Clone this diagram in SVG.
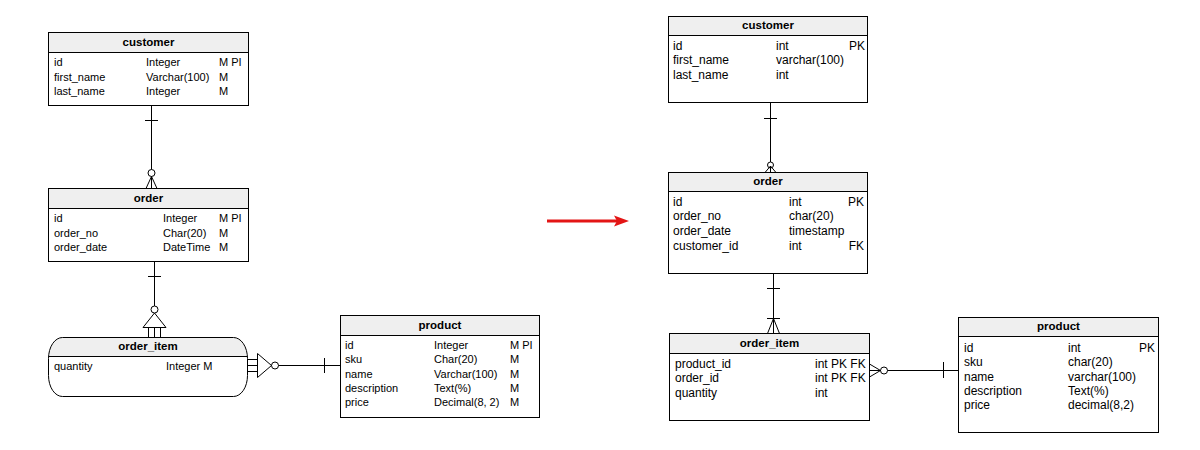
<svg xmlns="http://www.w3.org/2000/svg" width="1200" height="450" viewBox="0 0 1200 450">
<style>
.box{fill:#fff;stroke:#000;stroke-width:1}
.hdr{fill:#efefef;stroke:#000;stroke-width:1}
.t{font-family:"Liberation Sans",Arial,sans-serif;font-size:11px;fill:#000}
.t2{font-family:"Liberation Sans",Arial,sans-serif;font-size:12px;fill:#000}
.tt{font-family:"Liberation Sans",Arial,sans-serif;font-size:11.5px;font-weight:bold;fill:#000;text-anchor:middle}
.r{text-anchor:end}
.ln{fill:none;stroke:#000;stroke-width:1}
</style>
<rect width="1200" height="450" fill="#fff"/>

<!-- LEFT -->
<g id="l-customer">
<rect class="box" x="48.5" y="32.5" width="200" height="73"/>
<rect class="hdr" x="48.5" y="32.5" width="200" height="20"/>
<text class="tt" x="148.5" y="46">customer</text>
<text class="t" x="54" y="66">id</text><text class="t" x="146" y="66">Integer</text><text class="t" x="219" y="66">M PI</text>
<text class="t" x="54" y="80.5">first_name</text><text class="t" x="146" y="80.5">Varchar(100)</text><text class="t" x="219" y="80.5">M</text>
<text class="t" x="54" y="95">last_name</text><text class="t" x="146" y="95">Integer</text><text class="t" x="219" y="95">M</text>
</g>
<g id="l-order">
<rect class="box" x="48.5" y="188.5" width="200" height="73"/>
<rect class="hdr" x="48.5" y="188.5" width="200" height="20"/>
<text class="tt" x="148.5" y="202">order</text>
<text class="t" x="54" y="222">id</text><text class="t" x="163" y="222">Integer</text><text class="t" x="219" y="222">M PI</text>
<text class="t" x="54" y="236.5">order_no</text><text class="t" x="163" y="236.5">Char(20)</text><text class="t" x="219" y="236.5">M</text>
<text class="t" x="54" y="251">order_date</text><text class="t" x="163" y="251">DateTime</text><text class="t" x="219" y="251">M</text>
</g>
<g id="l-order_item">
<clipPath id="oic"><rect x="48.5" y="337.5" width="199" height="59" rx="14" ry="21"/></clipPath>
<rect x="48.5" y="337.5" width="199" height="59" rx="14" ry="21" fill="#fff"/>
<rect x="48.5" y="337.5" width="199" height="19" fill="#efefef" clip-path="url(#oic)"/>
<line class="ln" x1="48.5" y1="356.5" x2="247.5" y2="356.5"/>
<rect x="48.5" y="337.5" width="199" height="59" rx="14" ry="21" class="ln"/>
<text class="tt" x="148" y="350">order_item</text>
<text class="t" x="54" y="370">quantity</text><text class="t" x="166" y="370">Integer M</text>
</g>
<g id="l-product">
<rect class="box" x="340.5" y="315.5" width="199" height="102"/>
<rect class="hdr" x="340.5" y="315.5" width="199" height="20"/>
<text class="tt" x="440" y="329">product</text>
<text class="t" x="345" y="349">id</text><text class="t" x="434" y="349">Integer</text><text class="t" x="510" y="349">M PI</text>
<text class="t" x="345" y="363">sku</text><text class="t" x="434" y="363">Char(20)</text><text class="t" x="510" y="363">M</text>
<text class="t" x="345" y="378">name</text><text class="t" x="434" y="378">Varchar(100)</text><text class="t" x="510" y="378">M</text>
<text class="t" x="345" y="392">description</text><text class="t" x="434" y="392">Text(%)</text><text class="t" x="510" y="392">M</text>
<text class="t" x="345" y="406">price</text><text class="t" x="434" y="406">Decimal(8, 2)</text><text class="t" x="510" y="406">M</text>
</g>

<!-- RIGHT -->
<g id="r-customer">
<rect class="box" x="668.5" y="16.5" width="199" height="86"/>
<rect class="hdr" x="668.5" y="16.5" width="199" height="19"/>
<text class="tt" x="768" y="29">customer</text>
<text class="t2" x="673" y="49.5">id</text><text class="t2" x="776" y="49.5">int</text><text class="t2 r" x="865" y="49.5">PK</text>
<text class="t2" x="673" y="64">first_name</text><text class="t2" x="776" y="64">varchar(100)</text>
<text class="t2" x="673" y="79">last_name</text><text class="t2" x="776" y="79">int</text>
</g>
<g id="r-order">
<rect class="box" x="668.5" y="172.5" width="199" height="101"/>
<rect class="hdr" x="668.5" y="172.5" width="199" height="19"/>
<text class="tt" x="768" y="185">order</text>
<text class="t2" x="673" y="205.5">id</text><text class="t2" x="789" y="205.5">int</text><text class="t2 r" x="864" y="205.5">PK</text>
<text class="t2" x="673" y="220">order_no</text><text class="t2" x="789" y="220">char(20)</text>
<text class="t2" x="673" y="235">order_date</text><text class="t2" x="789" y="235">timestamp</text>
<text class="t2" x="673" y="249.5">customer_id</text><text class="t2" x="789" y="249.5">int</text><text class="t2 r" x="864" y="249.5">FK</text>
</g>
<g id="r-order_item">
<rect class="box" x="669.5" y="333.5" width="200" height="87"/>
<rect class="hdr" x="669.5" y="333.5" width="200" height="20"/>
<text class="tt" x="769.5" y="346.5">order_item</text>
<text class="t2" x="675" y="367.5">product_id</text><text class="t2" x="815" y="367.5">int PK FK</text>
<text class="t2" x="675" y="381.5">order_id</text><text class="t2" x="815" y="381.5">int PK FK</text>
<text class="t2" x="675" y="396.5">quantity</text><text class="t2" x="815" y="396.5">int</text>
</g>
<g id="r-product">
<rect class="box" x="958.5" y="317.5" width="200" height="115"/>
<rect class="hdr" x="958.5" y="317.5" width="200" height="19"/>
<text class="tt" x="1058.5" y="330">product</text>
<text class="t2" x="964" y="351.5">id</text><text class="t2" x="1068" y="351.5">int</text><text class="t2 r" x="1155" y="351.5">PK</text>
<text class="t2" x="964" y="365.5">sku</text><text class="t2" x="1068" y="365.5">char(20)</text>
<text class="t2" x="964" y="380.5">name</text><text class="t2" x="1068" y="380.5">varchar(100)</text>
<text class="t2" x="964" y="394.5">description</text><text class="t2" x="1068" y="394.5">Text(%)</text>
<text class="t2" x="964" y="408.5">price</text><text class="t2" x="1068" y="408.5">decimal(8,2)</text>
</g>

<g id="connectors">
<!-- left customer-order -->
<line class="ln" x1="151.5" y1="105.5" x2="151.5" y2="169.5"/>
<line class="ln" x1="145" y1="120.5" x2="158" y2="120.5"/>
<circle class="ln" cx="151.5" cy="173" r="3.5" fill="#fff"/>
<path class="ln" d="M151.5 176.5 L146 188.5 M151.5 176.5 L151.5 188.5 M151.5 176.5 L157 188.5"/>
<!-- left order-order_item -->
<line class="ln" x1="154.5" y1="261.5" x2="154.5" y2="306"/>
<line class="ln" x1="148" y1="276.5" x2="161" y2="276.5"/>
<circle class="ln" cx="154.5" cy="309.5" r="3.5" fill="#fff"/>
<path class="ln" d="M154.5 313 L143 327.5 L166 327.5 Z" fill="#fff"/>
<path class="ln" d="M148.5 327.5 V337.5 M154.5 327.5 V337.5 M160.5 327.5 V337.5"/>
<!-- left order_item-product -->
<path class="ln" d="M247.5 359.5 H257.5 M247.5 365.5 H257.5 M247.5 371.5 H257.5"/>
<path class="ln" d="M257.5 353.5 L257.5 377.5 L271.5 365.5 Z" fill="#fff"/>
<circle class="ln" cx="275" cy="365.5" r="3.5" fill="#fff"/>
<line class="ln" x1="278.5" y1="365.5" x2="340.5" y2="365.5"/>
<line class="ln" x1="324.5" y1="358" x2="324.5" y2="373"/>
<!-- red arrow -->
<line x1="547" y1="221" x2="618" y2="221" stroke="#e31515" stroke-width="3"/>
<polygon points="614,215.5 629,221 614,226.5 617,221" fill="#e31515"/>
<!-- right customer-order -->
<line class="ln" x1="770.5" y1="102.5" x2="770.5" y2="162"/>
<line class="ln" x1="764" y1="118.5" x2="777" y2="118.5"/>
<circle class="ln" cx="770.5" cy="165" r="3" fill="#fff"/>
<path class="ln" d="M770.5 166 L765 172.5 M770.5 166 L770.5 172.5 M770.5 166 L776 172.5"/>
<!-- right order-order_item -->
<line class="ln" x1="773.5" y1="273.5" x2="773.5" y2="333.5"/>
<line class="ln" x1="767" y1="288.5" x2="780" y2="288.5"/>
<line class="ln" x1="767" y1="318.5" x2="780" y2="318.5"/>
<path class="ln" d="M773.5 318.5 L767.5 333.5 M773.5 318.5 L779.5 333.5"/>
<!-- right order_item-product -->
<path class="ln" d="M869.5 364 L880.5 370.5 M869.5 370.5 L880.5 370.5 M869.5 377 L880.5 370.5"/>
<circle class="ln" cx="884" cy="370.5" r="3.5" fill="#fff"/>
<line class="ln" x1="887.5" y1="370.5" x2="958.5" y2="370.5"/>
<line class="ln" x1="943.5" y1="362" x2="943.5" y2="378"/>
</g>
</svg>
